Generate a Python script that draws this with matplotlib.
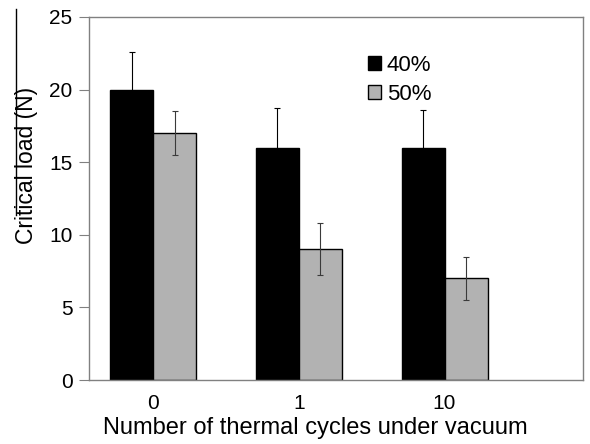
import numpy as np
import matplotlib.pyplot as plt
from matplotlib.lines import Line2D

plt.rcParams['font.family'] = ['Liberation Sans', 'DejaVu Sans']

# Data
categories = ['0', '1', '10']
load_40 = [20, 16, 16]
err_40 = [2.6, 2.7, 2.6]
load_50 = [17, 9, 7]
err_50 = [1.5, 1.8, 1.5]

fig = plt.figure(figsize=(5.9, 4.44), dpi=100)
ax = fig.add_axes([0.151, 0.144, 0.837, 0.818])

x = np.arange(len(categories))
w = 0.295
ax.bar(x - w / 2, load_40, w, color='black', edgecolor='black', linewidth=1,
       yerr=err_40, label='40%',
       error_kw=dict(ecolor='black', elinewidth=0.8, capsize=2, capthick=0.8))
ax.bar(x + w / 2, load_50, w, color='#b2b2b2', edgecolor='black', linewidth=1,
       yerr=err_50, label='50%',
       error_kw=dict(ecolor='#3a3a3a', elinewidth=0.8, capsize=2, capthick=0.8))

ax.set_xlim(-0.44, 2.95)
ax.set_ylim(0, 25)
ax.set_yticks([0, 5, 10, 15, 20, 25])
ax.set_xticks(x)
ax.set_xticklabels(categories)
ax.tick_params(axis='x', length=0, labelsize=15, pad=10)
ax.tick_params(axis='y', length=7, color='#808080', labelsize=15, pad=5)
for s in ax.spines.values():
    s.set_color('#808080')
    s.set_linewidth(1)

ax.set_xlabel('Number of thermal cycles under vacuum', fontsize=17)
ax.xaxis.set_label_coords(0.4585, -0.103)
ax.set_ylabel('Critical load (N)', fontsize=16.5)
ax.yaxis.set_label_coords(-0.103, 0.59)

ax.legend(loc='upper left', bbox_to_anchor=(0.547, 0.92), frameon=False,
          fontsize=16, handlelength=0.6, handleheight=0.6, handletextpad=0.25,
          labelspacing=0.35, borderaxespad=0)

# thin scan line at the left edge
fig.add_artist(Line2D([16 / 590, 16 / 590], [1 - 9 / 444, 1 - 215 / 444],
                      color='black', linewidth=1))

fig.savefig('out.png', dpi=100)
